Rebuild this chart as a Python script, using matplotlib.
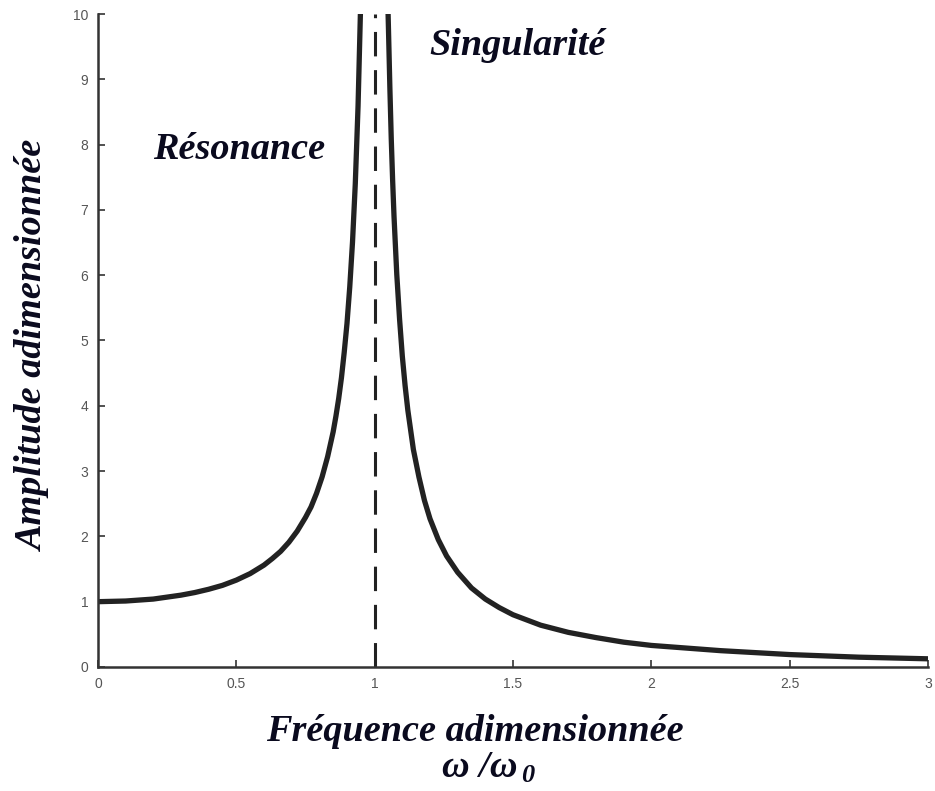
import matplotlib
matplotlib.use('Agg')
import matplotlib.pyplot as plt

# amplitude, left of the resonance
r_left = [0.0, 0.1, 0.2, 0.3, 0.35, 0.4, 0.45, 0.5, 0.55, 0.6, 0.63, 0.66, 0.69, 0.72,
          0.75, 0.77, 0.79, 0.81, 0.83, 0.85, 0.86, 0.87, 0.88, 0.89, 0.9, 0.91,
          0.92, 0.93, 0.94, 0.95]
a_left = [1.0, 1.01, 1.04, 1.10, 1.14, 1.19, 1.25, 1.33, 1.43, 1.56, 1.66, 1.77, 1.91,
          2.08, 2.29, 2.45, 2.66, 2.91, 3.22, 3.60, 3.84, 4.11, 4.43, 4.82, 5.26, 5.82,
          6.51, 7.40, 8.59, 10.26]
# right of the resonance
r_right = [1.048, 1.05, 1.055, 1.06, 1.065, 1.07, 1.08, 1.09, 1.1, 1.11, 1.12, 1.14,
           1.16, 1.18, 1.2, 1.23, 1.26, 1.3, 1.35, 1.4, 1.45, 1.5, 1.6, 1.7, 1.8, 1.9,
           2.0, 2.25, 2.5, 2.75, 3.0]
a_right = [10.1, 9.76, 8.87, 8.09, 7.45, 6.90, 6.01, 5.33, 4.76, 4.31, 3.93, 3.33,
           2.91, 2.55, 2.27, 1.95, 1.70, 1.45, 1.21, 1.04, 0.91, 0.80, 0.64, 0.53,
           0.45, 0.38, 0.33, 0.25, 0.19, 0.15, 0.125]

xticks = [0, 0.5, 1, 1.5, 2, 2.5, 3]
xticklabels = ['0', '0.5', '1', '1.5', '2', '2.5', '3']
yticks = list(range(11))

fig = plt.figure(figsize=(9.35, 7.91), dpi=100)
ax = fig.add_axes([0.1048, 0.1568, 0.8877, 0.8255])

ax.plot(r_left, a_left, color='#222222', lw=3.8, solid_capstyle='butt',
        solid_joinstyle='round')
ax.plot(r_right, a_right, color='#222222', lw=3.8, solid_capstyle='butt',
        solid_joinstyle='round')
ax.plot([1, 1], [0, 10], color='#222222', lw=2.2, dashes=(8, 4.5))

ax.set_xlim(0, 3)
ax.set_ylim(0, 10)
ax.set_xticks(xticks)
ax.set_xticklabels(xticklabels)
ax.set_yticks(yticks)
for s in ['top', 'right']:
    ax.spines[s].set_visible(False)
for s in ['left', 'bottom']:
    ax.spines[s].set_linewidth(1.8)
    ax.spines[s].set_color('#333333')
ax.tick_params(direction='in', length=5, width=1.2, color='#333333',
               labelsize=10, labelcolor='#555555', pad=7)
for lab in ax.get_xticklabels() + ax.get_yticklabels():
    lab.set_fontfamily('Liberation Sans')

tfont = dict(family='Liberation Serif', style='italic', weight='bold', color='#0a0a1e')
ax.text(0.51, 7.92, 'Résonance', fontsize=27.5, ha='center', va='center', **tfont)
ax.text(1.515, 9.52, 'Singularité', fontsize=27.5, ha='center', va='center', **tfont)

fig.text(0.036, 0.564, 'Amplitude adimensionnée', rotation=90, fontsize=27.5,
         ha='center', va='center', **tfont)
fig.text(0.508, 0.075, 'Fréquence adimensionnée', fontsize=27.5,
         ha='center', va='center', **tfont)
fig.text(0.553, 0.030, 'ω /ω', fontsize=27.5, ha='right', va='center', **tfont)
fig.text(0.557, 0.020, '0', fontsize=19, ha='left', va='center', **tfont)

fig.savefig('out.png', dpi=100)
